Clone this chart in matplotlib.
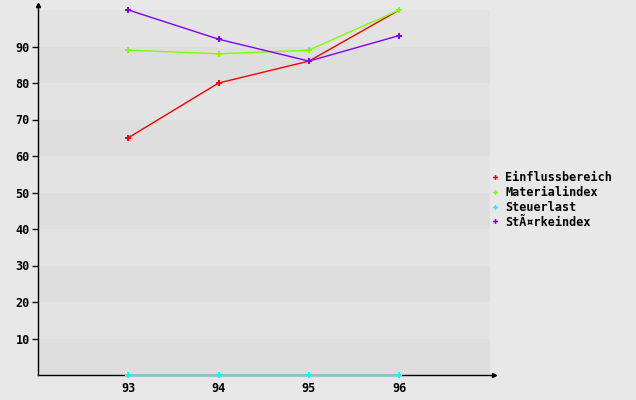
import numpy as np
import matplotlib.pyplot as plt
from matplotlib.lines import Line2D

# Data
years = [93, 94, 95, 96]
einfluss = [65, 80, 86, 100]
material = [89, 88, 89, 100]
steuer = [0, 0, 0, 0]
staerke = [100, 92, 86, 93]

names = ["Einflussbereich", "Materialindex", "Steuerlast", "StÃ¤rkeindex"]
colors = ["#ff0000", "#80ff00", "#00ffff", "#8000ff"]
yticks = [10, 20, 30, 40, 50, 60, 70, 80, 90]

font = dict(family="DejaVu Sans Mono", weight="bold", size=8.5)

fig = plt.figure(figsize=(6.36, 4.0), dpi=100, facecolor="#e8e8e8")
W, H = 636, 400
ax = fig.add_axes([38 / W, (H - 375) / H, (494 - 38) / W, (375 - 5) / H])
ax.set_facecolor("#e8e8e8")
ax.set_xlim(92, 92 + 456 / 90.3)
ax.set_ylim(0, 370 / 3.65)

# alternating horizontal bands
for lo in range(0, 100, 10):
    c = "#dedede" if (lo // 10) % 2 == 0 else "#e3e3e3"
    ax.axhspan(lo, lo + 10, xmin=0, xmax=452 / 456, color=c, lw=0, zorder=0)

for vals, col in zip([einfluss, material, steuer, staerke], colors):
    ax.plot(years, vals, color=col, lw=1, marker="P", ms=4.5,
            markeredgewidth=0, clip_on=False, zorder=3)

for s in ["top", "right"]:
    ax.spines[s].set_visible(False)
for s in ["left", "bottom"]:
    ax.spines[s].set_linewidth(1)
    ax.spines[s].set_color("black")
    ax.spines[s].set_zorder(2)
# arrow heads
ax.plot(0, 1, marker="^", ms=3, color="black", transform=ax.transAxes, clip_on=False)
ax.plot(1, 0, marker=">", ms=3, color="black", transform=ax.transAxes, clip_on=False)

ax.set_yticks(yticks)
ax.set_yticklabels([str(v) for v in yticks], **font)
ax.tick_params(axis="y", length=4, width=1, pad=2)
ax.set_xticks(years)
ax.set_xticklabels([str(v) for v in years], **font)
ax.tick_params(axis="x", length=0, pad=5)

handles = [Line2D([], [], color=c, marker="P", ms=3.5, lw=0, markeredgewidth=0)
           for c in colors]
fig.legend(handles, names, loc="upper left", bbox_to_anchor=(484 / W, 1 - 165 / H),
           frameon=False, prop=font, handlelength=0.9, handletextpad=0.4,
           labelspacing=0.16, borderpad=0)

fig.savefig("out.png", dpi=100, facecolor=fig.get_facecolor())
